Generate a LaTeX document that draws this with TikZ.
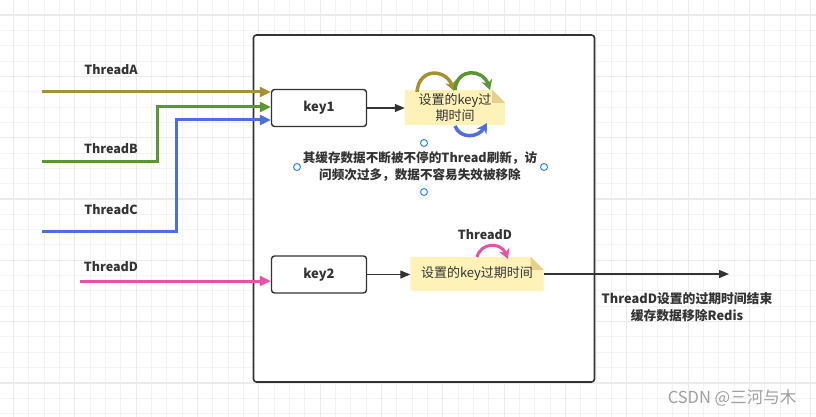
\documentclass[tikz,border=0pt]{standalone}
\usepackage{fontspec}
\setmainfont{Noto Sans CJK SC}
\usetikzlibrary{arrows.meta,calc}
\definecolor{olive}{HTML}{A6912E}
\definecolor{grn}{HTML}{5A9632}
\definecolor{blu}{HTML}{4A6EE6}
\definecolor{pnk}{HTML}{E852A2}
\definecolor{txt}{HTML}{333333}
\definecolor{notefill}{HTML}{FFF2B8}
\definecolor{notefold}{HTML}{E6D08C}
\definecolor{gridminor}{HTML}{F3F3F3}
\definecolor{gridmajor}{HTML}{EAEAEA}
\definecolor{handle}{HTML}{2E86F2}
\tikzset{
  keybox/.style={draw=txt,line width=1.4pt,rounded corners=3pt,fill=white,minimum width=95pt,minimum height=37pt,inner sep=0pt,font=\fontsize{13}{14}\selectfont\bfseries,text=txt},
  notebox/.style={inner sep=0pt,font=\fontsize{13}{16}\selectfont,text=txt,align=center},
  lbl/.style={font=\fontsize{12.5}{14}\selectfont\bfseries,text=txt,align=center,inner sep=0pt},
  thr/.style={line width=3pt,-{Triangle[length=11pt,width=10pt]}},
  conn/.style={draw=txt,line width=1.3pt,-{Triangle[length=10pt,width=8pt]}},
  loop/.style={line width=3.5pt,-{Stealth[length=10pt,width=11pt]}},
  hnd/.style={circle,draw=handle,fill=white,line width=1pt,minimum size=7pt,inner sep=0pt}
}
\begin{document}
\begin{tikzpicture}[x=1pt,y=-1pt]
\useasboundingbox (0,0) rectangle (816,417);
\fill[white] (0,0) rectangle (816,417);
% grid
\foreach \i in {0,...,55} {
  \draw[gridminor,line width=1pt] ({-1.8+15.333*\i},0) -- ({-1.8+15.333*\i},417);
}
\foreach \i in {0,...,28} {
  \draw[gridminor,line width=1pt] (0,{-0.33+15.333*\i}) -- (816,{-0.33+15.333*\i});
}
\foreach \i in {0,...,13} {
  \draw[gridmajor,line width=1.3pt] ({13.5+61.333*\i},0) -- ({13.5+61.333*\i},417);
}
\foreach \i in {0,...,6} {
  \draw[gridmajor,line width=1.3pt] (0,{15+61.333*\i}) -- (816,{15+61.333*\i});
}
% container
\node[draw=txt,line width=1.6pt,rounded corners=3pt,fill=white,minimum width=341pt,minimum height=347pt,inner sep=0pt] (box) at (424,208.5) {};
% keys
\node[keybox] (key1) at (319,108) {key1};
\node[keybox] (key2) at (319,274.5) {key2};
% notes
\node[notebox,minimum width=100pt,minimum height=35pt] (note1) at (455,107.5) {};
\node[notebox,minimum width=133pt,minimum height=34pt] (note2) at (477,274) {};
\foreach \n in {note1,note2} {
  \fill[notefill] (\n.south west) -- (\n.north west) -- ($(\n.north east)+(-13,0)$) -- ($(\n.north east)+(0,13)$) -- (\n.south east) -- cycle;
  \fill[notefold] ($(\n.north east)+(-13,0)$) -- ($(\n.north east)+(-13,13)$) -- ($(\n.north east)+(0,13)$) -- cycle;
}
\node[notebox] at (note1) {设置的key过\\期时间};
\node[notebox] at (note2) {设置的key过期时间};
% connectors
\draw[conn] (key1.east) -- (key1.east -| note1.west);
\draw[conn] (key2.east) -- (key2.east -| note2.west);
\coordinate (endD) at (729,274);
\draw[conn] (note2.east) -- (endD);
% threads
\coordinate (tA) at (42,92);
\coordinate (tB) at (42,161);
\coordinate (tC) at (42,231);
\coordinate (tD) at (80,281);
\draw[thr,olive] (tA) -- (tA -| key1.west);
\draw[thr,grn] (tB) -- (157,161) -- (157,107) -- ($(key1.west)+(0,-1)$);
\draw[thr,blu] (tC) -- (176,231) -- (176,120) -- ($(key1.west)+(0,12)$);
\draw[thr,pnk] (tD) -- (tD -| key2.west);
\node[lbl] (lA) at (111,70) {ThreadA};
\node[lbl] (lB) at (111,149) {ThreadB};
\node[lbl] (lC) at (111,209.5) {ThreadC};
\node[lbl] (lD) at (111,267) {ThreadD};
% loops on note1
\coordinate (o1) at (417,92); \coordinate (o2) at (454,91);
\coordinate (g1) at (455,90); \coordinate (g2) at (490,90);
\coordinate (b1) at (455,126); \coordinate (b2) at (487,123);
\draw[loop,olive] (o1) .. controls (419,67) and (446,69) .. (o2);
\draw[loop,grn] (g1) .. controls (457,67) and (483,69) .. (g2);
\draw[loop,blu] (b1) .. controls (460,139) and (478,138) .. (b2);
% loop on note2
\coordinate (p1) at (477,257); \coordinate (p2) at (508,259);
\draw[loop,pnk,line width=3pt] (p1) .. controls (481,242) and (501,242) .. (p2);
\node[lbl] (lD2) at (485,235) {ThreadD};
% text block with handles
\node[lbl,font=\fontsize{12.6}{17}\selectfont\bfseries] (desc) at (420,166.5) {其缓存数据不断被不停的Thread刷新，访\\问频次过多，数据不容易失效被移除};
\node[hnd] (h1) at (424,143) {};
\node[hnd] (h2) at (297,167) {};
\node[hnd] (h3) at (544,167) {};
\node[hnd] (h4) at (424,192) {};
% end text
\node[lbl,font=\fontsize{12.8}{17}\selectfont\bfseries] (endtxt) at (687,307.5) {ThreadD设置的过期时间结束\\缓存数据移除Redis};
% watermark
\node[font=\fontsize{16.5}{18}\selectfont,text=gray!75,inner sep=0pt] (wm) at (732,398) {CSDN @三河与木};
\end{tikzpicture}
\end{document}
